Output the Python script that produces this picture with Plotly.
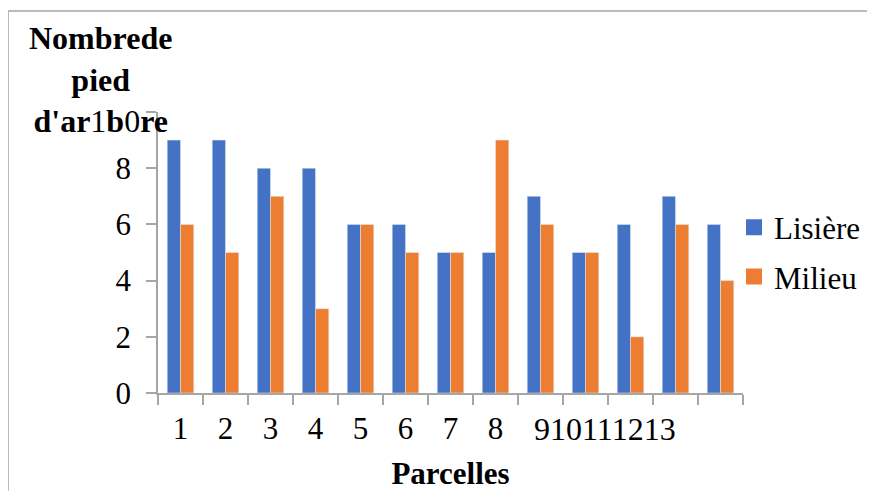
import plotly.graph_objects as go

categories = [str(i) for i in range(1, 14)]
lisiere = [9, 9, 8, 8, 6, 6, 5, 5, 7, 5, 6, 7, 6]
milieu = [6, 5, 7, 3, 6, 5, 5, 9, 6, 5, 2, 6, 4]
x_tick_labels = ["1", "2", "3", "4", "5", "6", "7", "8", "", "", "", "", ""]
crammed_label = "910111213"
y_ticks = [0, 2, 4, 6, 8, 10]
y_tick_labels = ["0", "2", "4", "6", "8", ""]

BLUE = "#4472C4"
ORANGE = "#ED7D31"
GREY = "#A6A6A6"
FONT = "Liberation Serif, Times New Roman, Tinos, Nimbus Roman, DejaVu Serif, serif"

OFF = 8  # page body margin
W, H = 875 - OFF, 491 - OFF
# plot area in page pixel coordinates
L, R, T, B = 158, 743, 112, 393


def px(x):
    return (x - L) / (R - L)


def py(y):
    return (B - y) / (B - T)


fig = go.Figure()
fig.add_trace(go.Bar(x=categories, y=lisiere, name="Lisière", marker_color=BLUE,
                     showlegend=False))
fig.add_trace(go.Bar(x=categories, y=milieu, name="Milieu", marker_color=ORANGE,
                     showlegend=False))
# legend proxies (larger square swatches)
fig.add_trace(go.Scatter(x=[None], y=[None], mode="markers", name="Lisière",
                         legendgroup="a",
                         marker=dict(symbol="square", size=16, color=BLUE)))
fig.add_trace(go.Scatter(x=[None], y=[None], mode="markers", name="Milieu",
                         legendgroup="b",
                         marker=dict(symbol="square", size=16, color=ORANGE)))

fig.update_layout(
    width=W, height=H,
    margin=dict(l=L - OFF, r=W - (R - OFF), t=T - OFF, b=H - (B - OFF), autoexpand=False),
    paper_bgcolor="white", plot_bgcolor="white",
    font=dict(family=FONT, size=31, color="black"),
    barmode="group", bargap=0.41, bargroupgap=0,
    legend=dict(x=px(734), y=py(252), xanchor="left", yanchor="middle",
                font=dict(size=31), tracegroupgap=6, traceorder="grouped",
                bgcolor="rgba(0,0,0,0)"),
    xaxis=dict(type="category", tickmode="array", tickvals=categories,
               ticktext=x_tick_labels, tickson="boundaries",
               ticks="outside", ticklen=10, tickcolor=GREY, tickwidth=1.5,
               showline=True, linecolor=GREY, linewidth=1.5,
               showgrid=False, zeroline=False, automargin=False,
               ticklabelstandoff=7,
               title=dict(text="<b>Parcelles</b>", font=dict(size=31), standoff=18)),
    yaxis=dict(range=[0, 10], tickmode="array", tickvals=y_ticks,
               ticktext=y_tick_labels, ticks="outside", ticklen=10,
               tickcolor=GREY, tickwidth=1.5, showline=True, linecolor=GREY,
               linewidth=1.5, showgrid=False, zeroline=False, automargin=False,
               ticklabelstandoff=9),
)

# y-axis title (with the overlapping "10" tick label woven in, as in the original)
fig.add_annotation(
    xref="paper", yref="paper", x=px(100), y=py(80), xanchor="center", yanchor="middle",
    text=("<b>Nombrede</b><br><b>pied</b><br><b>d'ar</b><span style='font-weight:normal'>1</span>"
          "<b>b</b><span style='font-weight:normal'>0</span><b>re</b>"),
    showarrow=False, font=dict(size=32), align="center",
)

# crammed x labels 9..13
fig.add_annotation(
    xref="paper", yref="paper", x=px(532), y=py(429), xanchor="left", yanchor="middle",
    text=crammed_label, showarrow=False, font=dict(size=32),
)

# outer frame (left and top edges visible)
fig.add_shape(type="line", xref="paper", yref="paper",
              x0=px(OFF), y0=py(11), x1=px(890), y1=py(11),
              line=dict(color=GREY, width=1.5))
fig.add_shape(type="line", xref="paper", yref="paper",
              x0=px(OFF), y0=py(11), x1=px(OFF), y1=py(510),
              line=dict(color=GREY, width=1.5))

fig.write_html("out.html")
